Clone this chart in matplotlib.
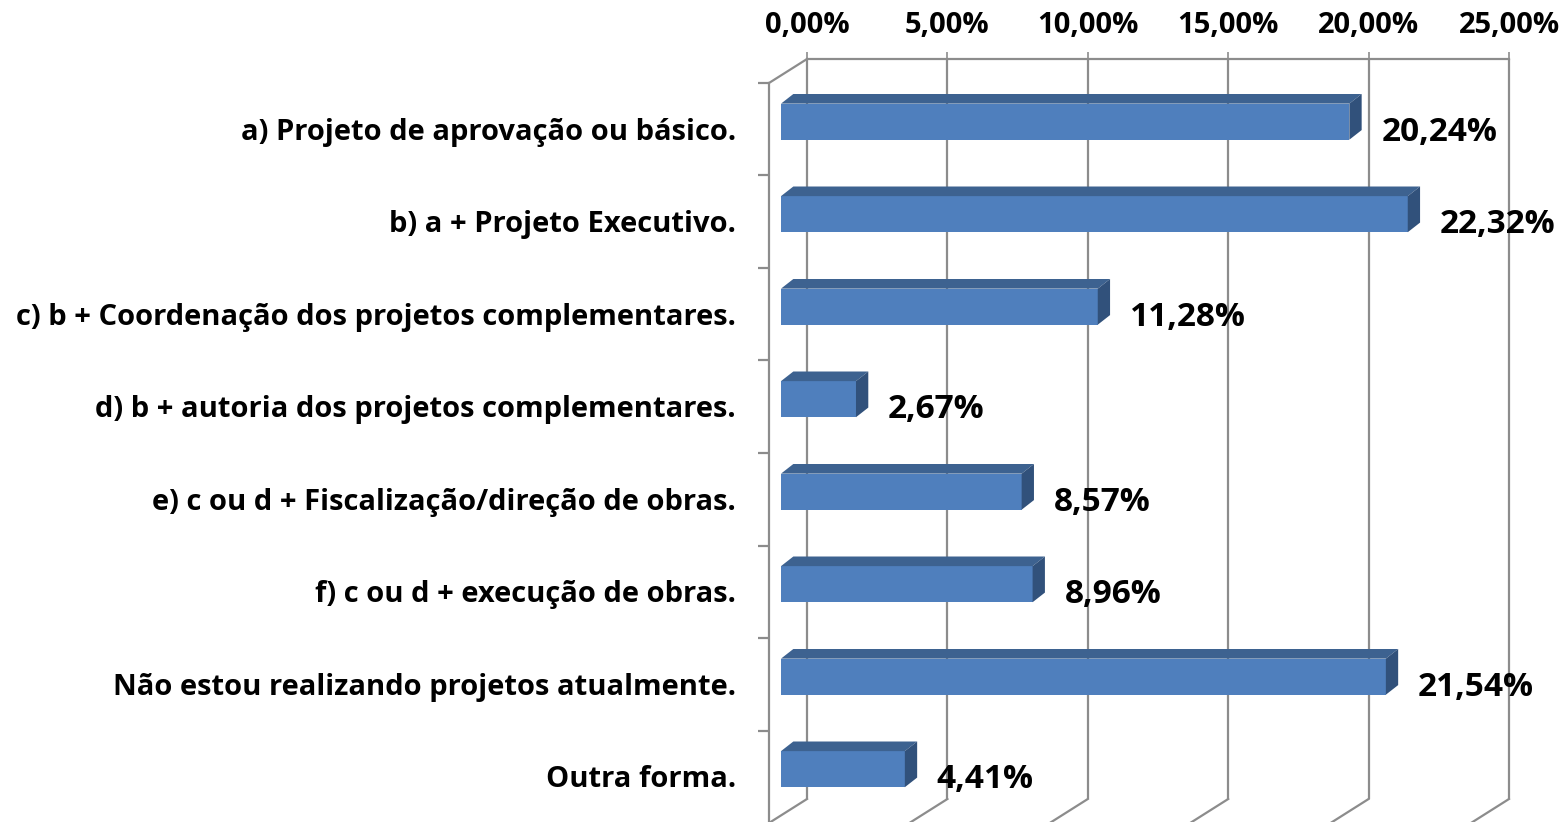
import matplotlib.pyplot as plt
from matplotlib.patches import Polygon

categories = ['a) Projeto de aprovação ou básico.',
              'b) a + Projeto Executivo.',
              'c) b + Coordenação dos projetos complementares.',
              'd) b + autoria dos projetos complementares.',
              'e) c ou d + Fiscalização/direção de obras.',
              'f) c ou d + execução de obras.',
              'Não estou realizando projetos atualmente.',
              'Outra forma.']
values = [20.24, 22.32, 11.28, 2.67, 8.57, 8.96, 21.54, 4.41]
ticks = [0, 5, 10, 15, 20, 25]
tick_labels = ['0,00%', '5,00%', '10,00%', '15,00%', '20,00%', '25,00%']

W, H = 1567, 822
fig = plt.figure(figsize=(W / 100, H / 100), dpi=100)
# axes = back wall of the 3d box
ax = fig.add_axes([807 / W, 1 - 799 / H, (1509 - 807) / W, (799 - 59) / H])
ax.set_xlim(0, 25)
ax.set_ylim(len(categories), 0)

grid_c = '#8c8c8c'
front_c = '#4f7fbd'
top_c = '#3d6290'
side_c = '#31517b'

# depth vector (back wall -> front), in data units
ddx = -38 / 28.08
ddy = 24 / 92.5
f_front = 0.684
f_back = 0.36
bar_h = 0.39

n = len(categories)
# back wall grid + floor
ax.vlines(ticks, 0, n, color=grid_c, lw=1.6, zorder=1, clip_on=False)
for t in ticks:
    ax.plot([t, t + ddx], [n, n + ddy], color=grid_c, lw=1.6, zorder=1,
            clip_on=False)
# left wall
ax.plot([0, ddx], [0, ddy], color=grid_c, lw=1.6, zorder=1, clip_on=False)
ax.plot([ddx, ddx], [ddy, n + ddy], color=grid_c, lw=1.6, zorder=1,
        clip_on=False)
ax.hlines([k + ddy for k in range(n + 1)], ddx - 0.39, ddx, color=grid_c,
          lw=1.6, zorder=1, clip_on=False)

# bars
for i, v in enumerate(values):
    y = i + 0.5
    fx, fy = f_front * ddx, y + f_front * ddy
    bx, by = f_back * ddx, y + f_back * ddy - 0.02
    ax.barh(fy, v, left=fx, height=bar_h, color=front_c, zorder=3,
            clip_on=False)
    top = [(fx, fy - bar_h / 2), (fx + v, fy - bar_h / 2),
           (bx + v, by - bar_h / 2), (bx, by - bar_h / 2)]
    side = [(fx + v, fy - bar_h / 2), (bx + v, by - bar_h / 2),
            (bx + v, by + bar_h / 2), (fx + v, fy + bar_h / 2)]
    ax.add_patch(Polygon(top, closed=True, fc=top_c, ec='none', zorder=3,
                         clip_on=False))
    ax.add_patch(Polygon(side, closed=True, fc=side_c, ec='none', zorder=3,
                         clip_on=False))
    lbl = f'{v:.2f}%'.replace('.', ',')
    ax.annotate(lbl, (fx + v, y + ddy), xytext=(23, -2),
                textcoords='offset points', ha='left', va='center',
                fontsize=24, fontweight='bold', family='Open Sans',
                zorder=4, annotation_clip=False)
    ax.annotate(categories[i], (ddx, y + ddy), xytext=(-24, -2),
                textcoords='offset points', ha='right', va='center',
                fontsize=21, fontweight='bold', family='Open Sans',
                annotation_clip=False)

ax.xaxis.tick_top()
ax.set_xticks(ticks)
ax.set_xticklabels(tick_labels, fontsize=21, fontweight='bold',
                   family='Open Sans')
ax.tick_params(axis='x', length=5, width=1.2, color=grid_c, pad=9)
ax.set_yticks([])
for s in ['left', 'right', 'bottom']:
    ax.spines[s].set_visible(False)
ax.spines['top'].set_color(grid_c)
ax.spines['top'].set_linewidth(1.6)
ax.patch.set_alpha(0)

plt.savefig('out.png', dpi=100)
